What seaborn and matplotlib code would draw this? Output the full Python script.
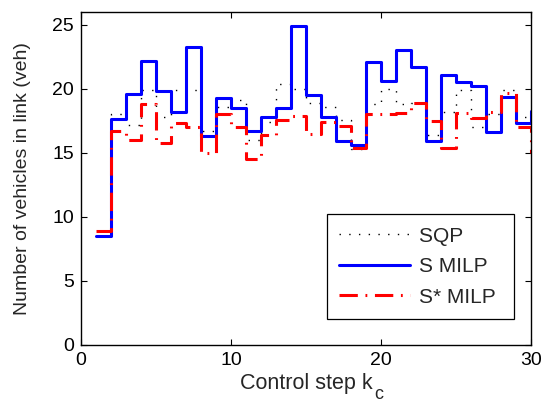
import numpy as np
import pandas as pd
from matplotlib import pyplot as plt
import seaborn as sns

# control steps k_c and number of vehicles per controller
steps = list(range(1, 31))
sqp = [8.5, 18.0, 17.2, 19.9, 17.8, 19.9, 19.9, 16.7, 18.6, 19.1,
       16.0, 17.4, 20.4, 20.0, 18.9, 18.6, 17.6, 15.3, 18.8, 20.0,
       18.8, 18.9, 16.4, 18.2, 19.9, 17.0, 18.0, 19.9, 17.8, 17.8]
s_milp = [8.5, 17.66, 19.6, 22.2, 19.8, 18.2, 23.25, 16.3, 19.27, 18.5,
          16.7, 17.8, 18.5, 24.9, 19.5, 17.8, 15.9, 15.6, 22.1, 20.6,
          23.05, 21.7, 15.96, 21.1, 20.5, 20.2, 16.6, 19.4, 17.3, 18.3]
s_star_milp = [8.9, 16.7, 16.0, 18.8, 15.8, 17.3, 17.0, 15.0, 18.0, 17.0,
               14.5, 16.4, 17.6, 17.9, 16.5, 17.4, 17.1, 15.4, 18.0, 18.0,
               18.1, 18.9, 17.5, 15.4, 18.1, 17.7, 18.2, 19.7, 17.0, 15.0]

sns.set_style("ticks")
plt.rcParams['font.family'] = ['Liberation Sans', 'DejaVu Sans']

df = pd.DataFrame({"k": steps, "SQP": sqp, "S MILP": s_milp, "S* MILP": s_star_milp})

fig = plt.figure(figsize=(5.45, 4.15), dpi=100)
ax = fig.add_axes([0.1486, 0.1687, 0.8257, 0.8024])

sns.lineplot(data=df, x="k", y="SQP", ax=ax, color="black", lw=1.0,
             linestyle=(0, (1, 6)), drawstyle="steps-post", estimator=None, label="SQP")
sns.lineplot(data=df, x="k", y="S MILP", ax=ax, color="#0000ff", lw=2.2,
             linestyle="-", drawstyle="steps-post", estimator=None, label="S MILP")
sns.lineplot(data=df, x="k", y="S* MILP", ax=ax, color="#ff0000", lw=2.2,
             linestyle=(0, (6, 2.5, 0.6, 2.5)), drawstyle="steps-post", estimator=None, label="S* MILP")

ax.set_xlim(0, 30)
ax.set_ylim(0, 26)
ax.set_xticks([0, 10, 20, 30])
ax.set_yticks([0, 5, 10, 15, 20, 25])
ax.tick_params(direction="in", length=4, width=0.8, top=True, right=True,
               labelsize=14, colors="black", pad=5)
for sp in ax.spines.values():
    sp.set_visible(True)
    sp.set_linewidth(1.0)
    sp.set_color("black")

# x label with a MATLAB-style (large, low) subscript
ax.set_xlabel("Control step k", fontsize=15.5, labelpad=3)
ax.annotate("c", xy=(1, 0), xycoords=ax.xaxis.label, xytext=(1.5, -3.5),
            textcoords="offset points", fontsize=13, va="baseline", ha="left")
ax.set_ylabel("Number of vehicles in link (veh)", fontsize=14, labelpad=15)

leg = ax.legend(loc="lower right", bbox_to_anchor=(0.962, 0.078), fontsize=15,
                frameon=True, fancybox=False, edgecolor="black", framealpha=1,
                handlelength=3.4, borderaxespad=0, borderpad=0.6,
                labelspacing=0.55, handletextpad=0.45)
leg.get_frame().set_linewidth(0.9)
# widen the box a little on the left like the original
for t in leg.get_texts():
    t.set_text(t.get_text() + " ")

fig.savefig("out.png", dpi=100)
